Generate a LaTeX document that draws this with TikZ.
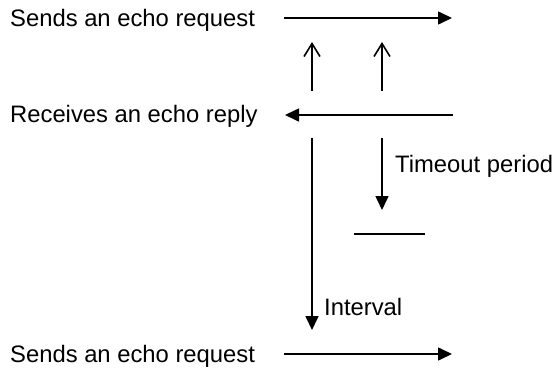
\documentclass[tikz,border=0pt]{standalone}
\usepackage{fontspec}
\setmainfont{Liberation Sans}
\usetikzlibrary{arrows.meta,positioning}

\begin{document}
\begin{tikzpicture}[
    x=1pt, y=-1pt,
    label/.style={anchor=base west, inner sep=0pt, font=\fontsize{23.8}{28}\selectfont},
    msg/.style={-{Triangle[length=14pt,width=13pt]}, line width=1.6pt},
    probe/.style={-{Straight Barb[length=13pt,width=16pt,line width=1.6pt]}, line width=1.6pt},
    plain/.style={line width=1.6pt}
]
    \useasboundingbox (0,0) rectangle (554,367);

    % texts
    \node[label] (send1) at (10,26) {Sends an echo request};
    \node[label] (recv) at (10,122) {Receives an echo reply};
    \node[label] (timeout) at (395,172) {Timeout period};
    \node[label] (interval) at (324,315) {Interval};
    \node[label] (send2) at (10,362) {Sends an echo request};

    % end points
    \coordinate (s1a) at (284,18);  \coordinate (s1b) at (452,18);
    \coordinate (ra) at (453,115);  \coordinate (rb) at (285,115);
    \coordinate (u1a) at (312,91);  \coordinate (u1b) at (312,42);
    \coordinate (u2a) at (382,91);  \coordinate (u2b) at (382,42);
    \coordinate (ia) at (312,138);  \coordinate (ib) at (312,330);
    \coordinate (ta) at (382,138);  \coordinate (tb) at (382,210);
    \coordinate (ea) at (354,234);  \coordinate (eb) at (425,234);
    \coordinate (s2a) at (284,354); \coordinate (s2b) at (452,354);

    \draw[msg] (s1a) -- (s1b);
    \draw[probe] (u1a) -- (u1b);
    \draw[probe] (u2a) -- (u2b);
    \draw[msg] (ra) -- (rb);
    \draw[msg] (ia) -- (ib);
    \draw[msg] (ta) -- (tb);
    \draw[plain] (ea) -- (eb);
    \draw[msg] (s2a) -- (s2b);
\end{tikzpicture}
\end{document}
